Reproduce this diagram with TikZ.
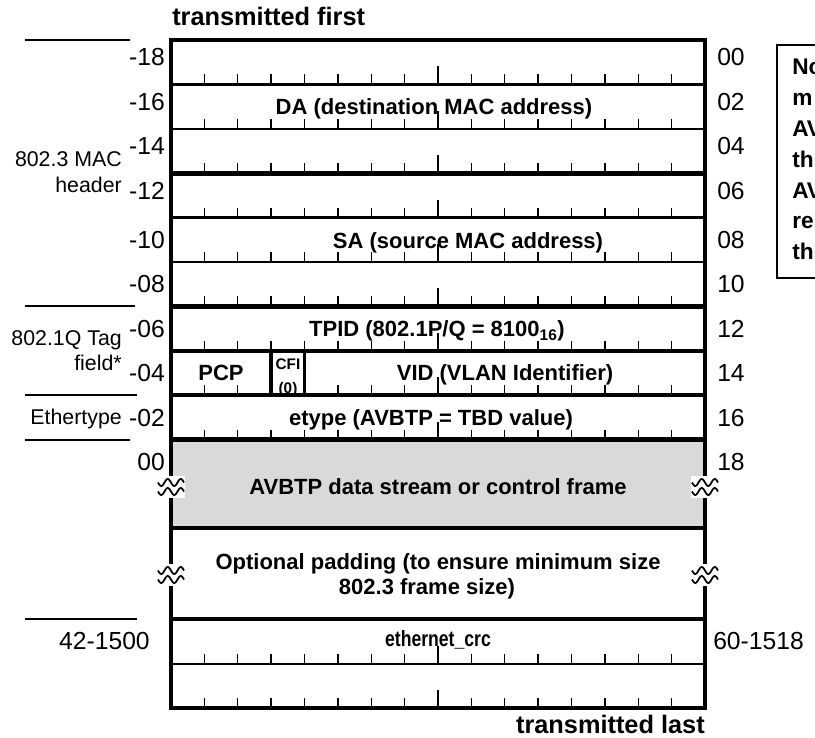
\documentclass[tikz,border=0pt]{standalone}
\usepackage{fontspec}
\setmainfont{Liberation Sans}
\newfontfamily\narrowfont[FakeStretch=0.8]{Liberation Sans}
\usepackage{xcolor}
\usepackage{tikz}
\usetikzlibrary{positioning}
\definecolor{payloadgray}{RGB}{217,217,217}

\begin{document}
\begin{tikzpicture}[
    x=0.75pt, y=-0.75pt,
    thinrule/.style={line width=1.8pt},
    midrule/.style={line width=2.6pt},
    thickrule/.style={line width=3.6pt},
    siderule/.style={line width=1.5pt},
    noterule/.style={line width=1.5pt},
    tickmark/.style={line width=1pt},
    wave/.style={line width=1.3pt},
    field/.style={font=\fontsize{16.5}{19}\selectfont\bfseries, anchor=base, inner sep=0pt},
    leftnum/.style={font=\fontsize{18.5}{20}\selectfont, anchor=base east, inner sep=0pt},
    rightnum/.style={font=\fontsize{18.5}{20}\selectfont, anchor=base west, inner sep=0pt},
    sidelabel/.style={font=\fontsize{16}{20}\selectfont, anchor=base east, inner sep=0pt},
    endlabel/.style={font=\fontsize{19}{22}\selectfont\bfseries, inner sep=0pt},
    notetext/.style={font=\fontsize{17}{20}\selectfont\bfseries, anchor=base west, inner sep=0pt}
]
\useasboundingbox (0,0) rectangle (815,738);
\clip (0,0) rectangle (815,738);

% payload area
\fill[payloadgray] (171,439.6) rectangle (705,528);

% row rules
\foreach \yr in {84.4,128.8,217.6,262,664}
  \draw[thinrule] (171,\yr) -- (705,\yr);
\foreach \yr in {350.8,395.2}
  \draw[midrule] (171,\yr) -- (705,\yr);
\foreach \yr in {173.2,306.4,439.6,528,619}
  \draw[thickrule] (171,\yr) -- (705,\yr);

% bit ticks, byte boundary taller
\foreach \yr in {84.4,128.8,173.2,217.6,262,306.4,350.8,395.2,439.6,664,708}
  \foreach \i in {1,...,15}{
    \pgfmathsetmacro\tlen{ifthenelse(\i==8,18,10)}
    \draw[tickmark] (171+33.375*\i,\yr) -- ++(0,-\tlen);
  }

% frame and CFI bit
\draw[thickrule] (171,40) rectangle (705,708);
\draw[midrule] (271.1,350.8) -- (271.1,395.2) (304.5,350.8) -- (304.5,395.2);

% break marks
\foreach \bx/\by in {171/487,705/487,171/575,705/575}{
  \fill[white] (\bx-14,\by-11) rectangle (\bx+14,\by+11);
  \draw[wave] plot[domain=-13:13,samples=41] ({\bx+\x},{\by-4.5+3.5*sin(27.7*\x)});
  \draw[wave] plot[domain=-13:13,samples=41] ({\bx+\x},{\by+4.5+3.5*sin(27.7*\x)});
}

% fields
\node[endlabel, anchor=base west] (txfirst) at (172,26) {transmitted first};
\node[endlabel, anchor=base east] (txlast) at (705,733) {transmitted last};
\node[field] (da) at (434,115) {DA (destination MAC address)};
\node[field] (sa) at (468,249) {SA (source MAC address)};
\node[field] (tpid) at (437,337) {TPID (802.1P/Q = 8100\textsubscript{16})};
\node[field] (pcp) at (221,380) {PCP};
\node[field, font=\fontsize{11.5}{12}\selectfont\bfseries] (cfi) at (288,369) {CFI};
\node[field, font=\fontsize{11.5}{12}\selectfont\bfseries] (cfival) at (288,393) {(0)};
\node[field] (vid) at (505,381) {VID (VLAN Identifier)};
\node[field] (etype) at (431,426) {etype (AVBTP = TBD value)};
\node[field] (payload) at (438,494) {AVBTP data stream or control frame};
\node[field] (padtop) at (438,569) {Optional padding (to ensure minimum size};
\node[field] (padbot) at (427,594) {802.3 frame size)};
\node[field, font=\fontsize{16.5}{19}\narrowfont\bfseries] (crc) at (438,646) {ethernet\_crc};

% octet offsets
\foreach \k/\l/\r in {0/-18/00,1/-16/02,2/-14/04,3/-12/06}{
  \node[leftnum] (lnum\k) at (165,{66+44.4*\k}) {\l};
  \node[rightnum] (rnum\k) at (717,{66+44.4*\k}) {\r};
}
\foreach \k/\l/\r in {4/-10/08,5/-08/10,6/-06/12,7/-04/14,8/-02/16,9/00/18}{
  \node[leftnum] (lnum\k) at (165,{71+44.4*\k}) {\l};
  \node[rightnum] (rnum\k) at (717,{71+44.4*\k}) {\r};
}
\node[leftnum] (lnumcrc) at (150,649) {42-1500};
\node[rightnum] (rnumcrc) at (713,649) {60-1518};

% header groups
\node[sidelabel] (mac1) at (122,167) {802.3 MAC};
\node[sidelabel] (mac2) at (122,193) {header};
\node[sidelabel] (tag1) at (122,345) {802.1Q Tag};
\node[sidelabel] (tag2) at (122,371) {field*};
\node[sidelabel] (ethlbl) at (122,425) {Ethertype};
\foreach \yr/\xe in {40/130,306.4/135,395.2/137,439.6/130,619/137}
  \draw[siderule] (25,\yr) -- (\xe,\yr);

% note, cut at the right edge
\draw[noterule] (830,45) -- (777,45) -- (777,278) -- (830,278);
\foreach \t [count=\k from 0] in {No,m,AV,th,AV,re,th}
  \node[notetext] (note\k) at (792,{75+30.8*\k}) {\t};
\end{tikzpicture}
\end{document}
